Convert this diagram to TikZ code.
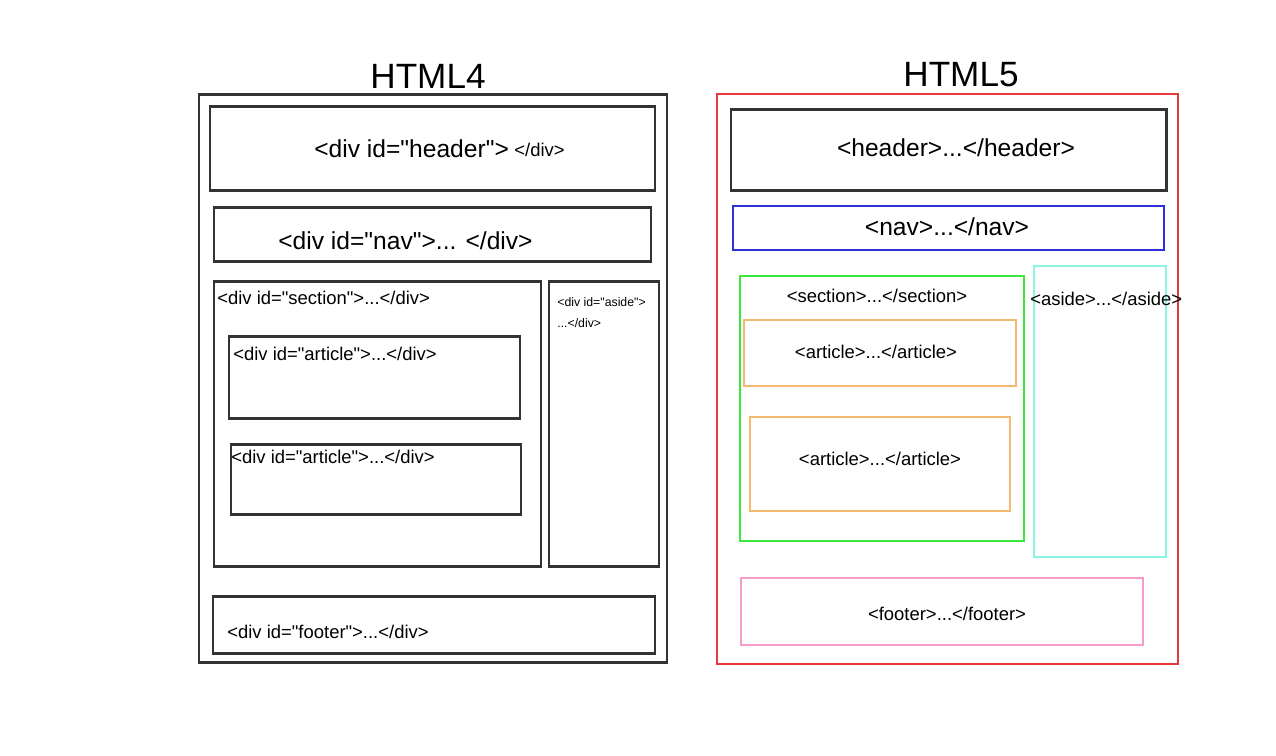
\documentclass[tikz,border=0pt]{standalone}
\usepackage{fontspec}
\setmainfont[Ligatures=TeXOff]{Liberation Sans}
\usepackage{xcolor}
\usepackage{tikz}

\definecolor{boxgray}{HTML}{333333}
\definecolor{htmlred}{HTML}{E8383D}
\definecolor{navblue}{HTML}{3030D8}
\definecolor{secgreen}{HTML}{3AE83A}
\definecolor{artorange}{HTML}{F5B870}
\definecolor{asidecyan}{HTML}{8AF5E2}
\definecolor{footpink}{HTML}{F59CCB}

\tikzset{
  oldbox/.style={draw=boxgray, line width=1.7pt},
  newbox/.style={line width=1.4pt},
  title/.style={font=\fontsize{20}{24}\selectfont, anchor=base, inner sep=0pt},
  bigtag/.style={font=\fontsize{14}{17}\selectfont, inner sep=0pt},
  tag/.style={font=\fontsize{10.5}{13}\selectfont, inner sep=0pt},
  tinytag/.style={font=\fontsize{7}{9}\selectfont, inner sep=0pt, anchor=base west}
}

\begin{document}
\begin{tikzpicture}[x=0.02cm, y=-0.02cm]
			\useasboundingbox (0,0) rectangle (1276,755);
			% HTML4 side
			\node[title] (t4) at (428,88) {HTML4};
			\draw[oldbox] (199,94) rectangle (667,662);
			\draw[oldbox] (210,106) rectangle (655,190);
			\draw[oldbox] (214,207) rectangle (651,261);
			\draw[oldbox] (214,281) rectangle (541,566);
			\draw[oldbox] (549,281) rectangle (659,566);
			\draw[oldbox] (229,336) rectangle (520,418);
			\draw[oldbox] (231,444) rectangle (521,514);
			\draw[oldbox] (213,596) rectangle (655,653);
			\node[bigtag, anchor=base west] (hd4) at (314,157) {<div id="header">};
			\node[tag, anchor=base west] (hd4end) at (514,156) {</div>};
			\node[bigtag, anchor=base west] (nav4) at (278,249) {<div id="nav">... </div>};
			\node[tag, anchor=base west] (sec4) at (217,304) {<div id="section">...</div>};
			\node[tinytag] (as4) at (557,306) {<div id="aside">};
			\node[tinytag] (as4end) at (557,327) {...</div>};
			\node[tag, anchor=base west] (art4a) at (233,360) {<div id="article">...</div>};
			\node[tag, anchor=base west] (art4b) at (231,463) {<div id="article">...</div>};
			\node[tag, anchor=base west] (ft4) at (227,638) {<div id="footer">...</div>};
			% HTML5 side
			\node[title] (t5) at (961,86) {HTML5};
			\draw[newbox, htmlred] (717,94) rectangle (1178,664);
			\draw[oldbox] (731,109) rectangle (1166,190);
			\draw[newbox, navblue] (733,206) rectangle (1164,250);
			\draw[newbox, secgreen] (740,276) rectangle (1024,541);
			\draw[newbox, asidecyan] (1034,266) rectangle (1166,557);
			\draw[newbox, artorange] (744,320) rectangle (1016,386);
			\draw[newbox, artorange] (750,417) rectangle (1010,511);
			\draw[newbox, footpink] (741,578) rectangle (1143,645);
			\node[bigtag, anchor=base] (hd5) at (956,156) {<header>...</header>};
			\node[bigtag, anchor=base] (nav5) at (947,235) {<nav>...</nav>};
			\node[tag, anchor=base] (sec5) at (877,302) {<section>...</section>};
			\node[tag, anchor=base west] (as5) at (1030,305) {<aside>...</aside>};
			\node[tag, anchor=base] (art5a) at (876,358) {<article>...</article>};
			\node[tag, anchor=base] (art5b) at (880,465) {<article>...</article>};
			\node[tag, anchor=base] (ft5) at (947,620) {<footer>...</footer>};
		\end{tikzpicture}
\end{document}
